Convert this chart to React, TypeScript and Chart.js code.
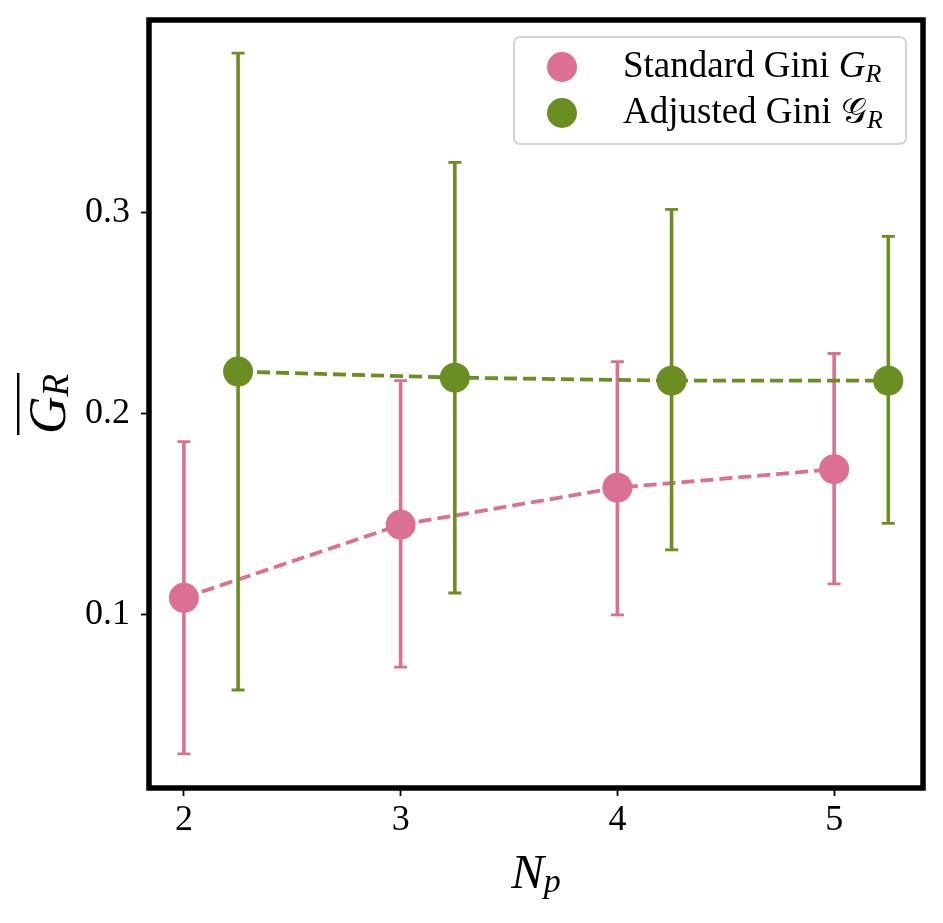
import React, { useEffect, useRef } from "react";
import { Chart, registerables } from "chart.js";

Chart.register(...registerables);

// ---- data ----
const xStandard = [2, 3, 4, 5];
const yStandard = [0.1085, 0.1448, 0.1632, 0.1724];
const lowStandard = [0.031, 0.0741, 0.1, 0.1154];
const highStandard = [0.1861, 0.2164, 0.2259, 0.2299];

const xAdjusted = [2.25, 3.25, 4.25, 5.25];
const yAdjusted = [0.2209, 0.2179, 0.2164, 0.2164];
const lowAdjusted = [0.0627, 0.1109, 0.1323, 0.1455];
const highAdjusted = [0.3791, 0.3249, 0.3015, 0.2881];

const xTicks = [2, 3, 4, 5];
const yTicks = [0.1, 0.2, 0.3];

const labelStandard = "Standard Gini ";
const labelAdjusted = "Adjusted Gini ";

const PINK = "#DB7093";
const GREEN = "#6B8E23";
const SERIF = "'Liberation Serif', 'DejaVu Serif', serif";

type Part = { text: string; font: string; dy: number };

function measureParts(ctx: CanvasRenderingContext2D, parts: Part[]) {
  let w = 0;
  for (const p of parts) {
    ctx.font = p.font;
    w += ctx.measureText(p.text).width;
  }
  return w;
}

function drawParts(ctx: CanvasRenderingContext2D, parts: Part[], x: number, y: number) {
  let cx = x;
  ctx.textAlign = "left";
  ctx.textBaseline = "alphabetic";
  for (const p of parts) {
    ctx.font = p.font;
    ctx.fillText(p.text, cx, y + p.dy);
    cx += ctx.measureText(p.text).width;
  }
  return cx;
}

const errorBarPlugin = {
  id: "errorBars",
  beforeDatasetDraw(chart: any, args: any) {
    const ds = chart.data.datasets[args.index] as any;
    if (!ds.errLow) return;
    const xs = chart.scales.x;
    const ys = chart.scales.y;
    const ctx = chart.ctx as CanvasRenderingContext2D;
    ctx.save();
    ctx.strokeStyle = ds.borderColor;
    ctx.lineCap = "butt";
    ds.data.forEach((pt: any, i: number) => {
      const px = xs.getPixelForValue(pt.x);
      const pLow = ys.getPixelForValue(ds.errLow[i]);
      const pHigh = ys.getPixelForValue(ds.errHigh[i]);
      ctx.lineWidth = 3.6;
      ctx.beginPath();
      ctx.moveTo(px, pLow);
      ctx.lineTo(px, pHigh);
      ctx.stroke();
      ctx.lineWidth = 2.8;
      ctx.beginPath();
      ctx.moveTo(px - 6.5, pLow);
      ctx.lineTo(px + 6.5, pLow);
      ctx.moveTo(px - 6.5, pHigh);
      ctx.lineTo(px + 6.5, pHigh);
      ctx.stroke();
    });
    ctx.restore();
  },
};

const framePlugin = {
  id: "frameAndLabels",
  afterDraw(chart: any) {
    const ctx = chart.ctx as CanvasRenderingContext2D;
    const a = chart.chartArea;
    ctx.save();
    // frame
    ctx.strokeStyle = "#000";
    ctx.lineWidth = 5.5;
    ctx.strokeRect(a.left, a.top, a.right - a.left, a.bottom - a.top);

    ctx.fillStyle = "#000";
    // x title N_p
    const xParts: Part[] = [
      { text: "N", font: `italic 49px ${SERIF}`, dy: 0 },
      { text: "p", font: `italic 34px ${SERIF}`, dy: 4 },
    ];
    const xw = measureParts(ctx, xParts);
    const cx = (a.left + a.right) / 2;
    drawParts(ctx, xParts, cx - xw / 2, 888);

    // y title overline G_R
    const yParts: Part[] = [
      { text: "G", font: `italic 52px ${SERIF}`, dy: 0 },
      { text: "R", font: `italic 37px ${SERIF}`, dy: 3 },
    ];
    const yw = measureParts(ctx, yParts);
    const cy = (a.top + a.bottom) / 2;
    ctx.save();
    ctx.translate(65, cy);
    ctx.rotate(-Math.PI / 2);
    drawParts(ctx, yParts, -yw / 2, 0);
    ctx.fillRect(-yw / 2 - 1, -48, yw + 2, 2.4);
    ctx.restore();

    // legend
    const lx = 514, ly = 37, lw = 392, lh = 107;
    ctx.beginPath();
    (ctx as any).roundRect(lx, ly, lw, lh, 6);
    ctx.fillStyle = "rgba(255,255,255,0.85)";
    ctx.fill();
    ctx.strokeStyle = "#d4d4d4";
    ctx.lineWidth = 2;
    ctx.stroke();

    const rows = [
      { color: PINK, y: 67, parts: [
        { text: labelStandard, font: `37px ${SERIF}`, dy: 0 },
        { text: "G", font: `italic 37px ${SERIF}`, dy: 0 },
        { text: "R", font: `italic 26px ${SERIF}`, dy: 5 },
      ] },
      { color: GREEN, y: 113, parts: [
        { text: labelAdjusted, font: `37px ${SERIF}`, dy: 0 },
        { text: "\u{1D4A2}", font: `36px ${SERIF}`, dy: 0 },
        { text: "R", font: `italic 26px ${SERIF}`, dy: 5 },
      ] },
    ];
    rows.forEach((r) => {
      ctx.beginPath();
      ctx.arc(562, r.y, 15, 0, Math.PI * 2);
      ctx.fillStyle = r.color;
      ctx.fill();
      ctx.fillStyle = "#000";
      drawParts(ctx, r.parts as Part[], 623, r.y + 10);
    });
    ctx.restore();
  },
};

export default function App() {
  const ref = useRef<HTMLCanvasElement | null>(null);
  useEffect(() => {
    if (!ref.current) return;
    const chart = new Chart(ref.current, {
      type: "scatter",
      data: {
        datasets: [
          {
            label: "Standard Gini",
            data: xStandard.map((x, i) => ({ x, y: yStandard[i] })),
            errLow: lowStandard,
            errHigh: highStandard,
            borderColor: PINK,
            backgroundColor: PINK,
            pointBackgroundColor: PINK,
            pointBorderWidth: 0,
            pointRadius: 15,
            showLine: true,
            borderWidth: 3.8,
            borderDash: [13, 6],
            order: 2,
          } as any,
          {
            label: "Adjusted Gini",
            data: xAdjusted.map((x, i) => ({ x, y: yAdjusted[i] })),
            errLow: lowAdjusted,
            errHigh: highAdjusted,
            borderColor: GREEN,
            backgroundColor: GREEN,
            pointBackgroundColor: GREEN,
            pointBorderWidth: 0,
            pointRadius: 15,
            showLine: true,
            borderWidth: 3.8,
            borderDash: [13, 6],
            order: 1,
          } as any,
        ],
      },
      options: {
        animation: false,
        responsive: false,
        devicePixelRatio: 1,
        layout: { padding: { top: 20, right: 20, left: 0, bottom: 0 } },
        plugins: { legend: { display: false }, tooltip: { enabled: false } },
        scales: {
          x: {
            type: "linear",
            min: 1.839,
            max: 5.41,
            afterBuildTicks: (s: any) => {
              s.ticks = xTicks.map((v) => ({ value: v }));
            },
            afterFit: (s: any) => {
              s.height = 135;
              s.paddingLeft = 0;
              s.paddingRight = 0;
            },
            ticks: {
              color: "#000",
              font: { family: SERIF, size: 36 },
              padding: 3,
              maxRotation: 0,
              callback: (v: any) => String(v),
            },
            grid: {
              drawOnChartArea: false,
              drawTicks: true,
              tickLength: 8,
              tickWidth: 1.8,
              tickColor: "#000",
            },
            border: { display: false },
          },
          y: {
            type: "linear",
            min: 0.014,
            max: 0.3956,
            afterBuildTicks: (s: any) => {
              s.ticks = yTicks.map((v) => ({ value: v }));
            },
            afterFit: (s: any) => {
              s.width = 149;
              s.paddingTop = 0;
              s.paddingBottom = 0;
            },
            ticks: {
              color: "#000",
              font: { family: SERIF, size: 36 },
              padding: 11,
              callback: (v: any) => Number(v).toFixed(1),
            },
            grid: {
              drawOnChartArea: false,
              drawTicks: true,
              tickLength: 8,
              tickWidth: 1.8,
              tickColor: "#000",
            },
            border: { display: false },
          },
        },
      },
      plugins: [errorBarPlugin, framePlugin],
    } as any);
    return () => chart.destroy();
  }, []);

  return (
    <div style={{ position: "fixed", left: 0, top: 0, width: 943, height: 923, background: "#fff" }}>
      <canvas ref={ref} width={943} height={923} style={{ width: 943, height: 923, display: "block" }} />
    </div>
  );
}
